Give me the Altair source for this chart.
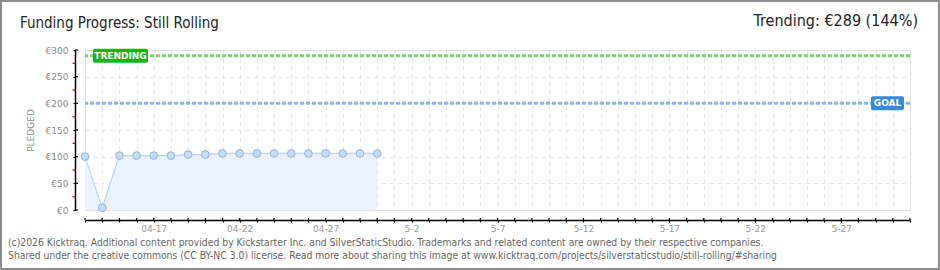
import altair as alt
import pandas as pd

# ---------------- data ----------------
dates = ["2026-04-13", "2026-04-14", "2026-04-15", "2026-04-16", "2026-04-17", "2026-04-18",
         "2026-04-19", "2026-04-20", "2026-04-21", "2026-04-22", "2026-04-23", "2026-04-24",
         "2026-04-25", "2026-04-26", "2026-04-27", "2026-04-28", "2026-04-29", "2026-04-30"]
pledged = [100, 4, 102, 102, 102, 102, 104, 104, 106, 106, 106, 106, 106, 106, 106, 106, 106, 106]

goal_value = 200
trending_value = 289
trending_pct = 144

axis_start = "2026-04-13"
axis_end = "2026-05-31"
label_dates = ["2026-04-17", "2026-04-22", "2026-04-27", "2026-05-02", "2026-05-07",
               "2026-05-12", "2026-05-17", "2026-05-22", "2026-05-27"]
label_texts = ["04-17", "04-22", "04-27", "5-2", "5-7", "5-12", "5-17", "5-22", "5-27"]

y_major = [0, 50, 100, 150, 200, 250, 300]
y_minor = [25, 75, 125, 175, 225, 275]

title_text = "Funding Progress: Still Rolling"
trend_text = "Trending: €289 (144%)"
footer_lines = [
    "(c)2026 Kicktraq. Additional content provided by Kickstarter Inc. and SilverStaticStudio. Trademarks and related content are owned by their respective companies.",
    "Shared under the creative commons (CC BY-NC 3.0) license. Read more about sharing this image at www.kicktraq.com/projects/silverstaticstudio/still-rolling/#sharing",
]

# ---------------- setup ----------------
W, H = 825, 160
PAD_L, PAD_T = 85, 50

all_days = [int(d.value // 10**6) for d in pd.date_range(axis_start, axis_end, freq="D", tz="UTC")]

expr = "''"
for d, t in reversed(list(zip(label_dates, label_texts))):
    expr = f"utcFormat(datum.value, '%Y-%m-%d') == '{d}' ? '{t}' : ({expr})"

xscale = alt.Scale(type="utc",
                   domain=[alt.DateTime(year=2026, month=4, date=13, utc=True),
                           alt.DateTime(year=2026, month=5, date=31, utc=True)],
                   nice=False)
yscale = alt.Scale(domain=[0, 300], nice=False, zero=True)

xaxis = alt.Axis(values=all_days, labelExpr=expr, title=None, offset=10,
                 domainColor="#000", domainWidth=1.5, tickColor="#000", tickSize=2, tickWidth=1.2,
                 grid=True, gridColor="#e4e4e4", gridDash=[4, 4], gridWidth=1,
                 labelFont="DejaVu Sans", labelFontSize=9, labelColor="#9a9a9a",
                 labelPadding=2, labelOverlap=False, labelFlush=False)
yaxis = alt.Axis(values=y_major, labelExpr="'€' + datum.value", title="PLEDGED",
                 offset=10, domainColor="#000", domainWidth=1.5, tickColor="#000", tickSize=2,
                 tickWidth=1.2, grid=True, gridColor="#e4e4e4", gridDash=[4, 4], gridWidth=1,
                 labelFont="DejaVu Sans", labelFontSize=9, labelColor="#8a8a8a", labelPadding=5,
                 titleFont="DejaVu Sans", titleFontSize=9, titleColor="#8a8a8a",
                 titleFontWeight="normal", titlePadding=10)

X = alt.X("date:T", scale=xscale, axis=xaxis)
Y = alt.Y("value:Q", scale=yscale, axis=yaxis)

df = pd.DataFrame({"date": dates, "value": pledged})

area = alt.Chart(df).mark_area(color="#eaf3fd", opacity=1).encode(x=X, y=Y)
line = alt.Chart(df).mark_line(color="#b8d5f4", strokeWidth=1.2).encode(x=X, y=Y)
points = alt.Chart(df).mark_point(filled=True, shape="circle", size=60, fill="#c4ddf7",
                                  stroke="#92b3da", strokeWidth=1, opacity=1,
                                  fillOpacity=1).encode(x=X, y=Y)

trend_df = pd.DataFrame({"value": [trending_value]})
goal_df = pd.DataFrame({"value": [goal_value]})

trend_rule = alt.Chart(trend_df).mark_rule(color="#80d070", strokeWidth=3,
                                           strokeDash=[4, 2]).encode(y=Y)
goal_rule = alt.Chart(goal_df).mark_rule(color="#88b8ea", strokeWidth=3,
                                         strokeDash=[4, 2]).encode(y=Y)

trend_box = alt.Chart(trend_df).mark_rect(color="#16b616", cornerRadius=2, yOffset=-7,
                                          y2Offset=7).encode(
    y=Y, y2=alt.Y2("value:Q"), x=alt.value(8), x2=alt.value(63))
trend_lbl = alt.Chart(trend_df).mark_text(text="TRENDING", color="#ffffff", font="DejaVu Sans",
                                          fontSize=9, fontWeight="bold", align="center",
                                          baseline="middle").encode(y=Y, x=alt.value(35.5))
goal_box = alt.Chart(goal_df).mark_rect(color="#3a88d8", cornerRadius=2, yOffset=-7,
                                        y2Offset=7).encode(
    y=Y, y2=alt.Y2("value:Q"), x=alt.value(786), x2=alt.value(819))
goal_lbl = alt.Chart(goal_df).mark_text(text="GOAL", color="#ffffff", font="DejaVu Sans",
                                        fontSize=9, fontWeight="bold", align="center",
                                        baseline="middle").encode(y=Y, x=alt.value(802.5))

# inward halves of the crossing ticks, and red minor ticks
day_df = pd.DataFrame({"date": pd.to_datetime(all_days, unit="ms", utc=True).strftime("%Y-%m-%dT00:00:00Z")})
x_in = alt.Chart(day_df).mark_rule(color="#000", strokeWidth=1.2).encode(
    x=X, y=alt.value(H + 8), y2=alt.value(H + 10))
ymaj_df = pd.DataFrame({"value": y_major})
y_in = alt.Chart(ymaj_df).mark_rule(color="#000", strokeWidth=1.2).encode(
    y=Y, x=alt.value(-10), x2=alt.value(-7))
ymin_df = pd.DataFrame({"value": y_minor})
y_red = alt.Chart(ymin_df).mark_rule(color="#e00000", strokeWidth=1.2).encode(
    y=Y, x=alt.value(-12.5), x2=alt.value(-10))

# texts
title_font = "Liberation Sans Narrow, DejaVu Sans Condensed, Roboto"
def text_layer(txt, x, y, align, size, color, font):
    return alt.Chart(pd.DataFrame({"t": [txt]})).mark_text(
        font=font, fontSize=size, color=color, align=align, baseline="middle").encode(
        text="t:N", x=alt.value(x), y=alt.value(y))

title = text_layer(title_text, 20 - PAD_L, 23 - PAD_T, "left", 15, "#222", title_font)
trend_t = text_layer(trend_text, 918 - PAD_L, 21 - PAD_T, "right", 16, "#222", title_font)
foot_font = "DejaVu Sans Condensed, Liberation Sans Narrow, DejaVu Sans"
foot1 = text_layer(footer_lines[0], 8 - PAD_L, 243 - PAD_T, "left", 10.3, "#666", foot_font)
foot2 = text_layer(footer_lines[1], 8 - PAD_L, 256 - PAD_T, "left", 10.3, "#666", foot_font)

border = alt.Chart(pd.DataFrame({"t": [0]})).mark_rect(
    fillOpacity=0, stroke="#8c8c8c", strokeWidth=2).encode(
    x=alt.value(1 - PAD_L), x2=alt.value(939 - PAD_L), y=alt.value(1 - PAD_T), y2=alt.value(269 - PAD_T))

chart = alt.layer(
    area, goal_rule, trend_rule, line, points, trend_box, trend_lbl, goal_box, goal_lbl,
    x_in, y_in, y_red, title, trend_t, foot1, foot2, border
).properties(
    width=W, height=H,
    autosize=alt.AutoSizeParams(type="none"),
    padding={"left": PAD_L, "top": PAD_T, "right": 940 - PAD_L - W, "bottom": 270 - PAD_T - H},
).configure_view(stroke=None).configure(background="#ffffff")

chart.save("out.html", embed_options={"renderer": "svg", "actions": False})
